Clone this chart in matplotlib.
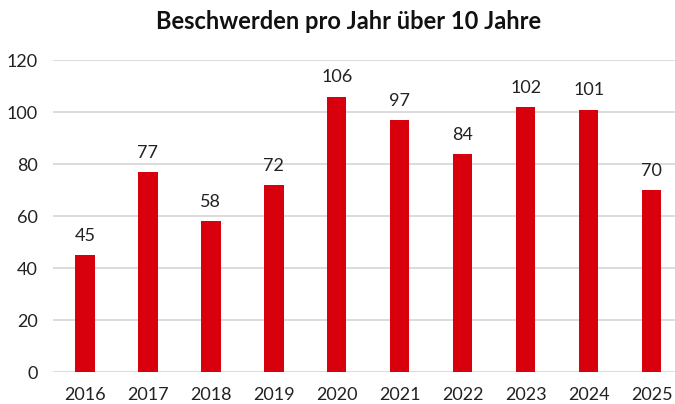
import matplotlib
matplotlib.use("Agg")
import matplotlib.pyplot as plt

years = ["2016", "2017", "2018", "2019", "2020", "2021", "2022", "2023", "2024", "2025"]
complaints = [45, 77, 58, 72, 106, 97, 84, 102, 101, 70]
y_ticks = [0, 20, 40, 60, 80, 100, 120]
title = "Beschwerden pro Jahr über 10 Jahre"

plt.rcParams['font.family'] = ['Lato', 'DejaVu Sans']

fig = plt.figure(figsize=(6.75, 4.04), dpi=100)
ax = fig.add_axes([0.079, 0.079, 0.933, 0.772])

x = range(len(years))
bars = ax.bar(x, complaints, width=0.31, color="#D9000D", zorder=3)
for xi, v in zip(x, complaints):
    ax.annotate(str(v), (xi, v), xytext=(0, 8), textcoords="offset points",
                ha="center", va="bottom", fontsize=13, color="#222222")

ax.set_xlim(-0.5, len(years) - 0.5)
ax.set_ylim(0, 120)
ax.set_yticks(y_ticks)
ax.set_xticks(list(x))
ax.set_xticklabels(years)
ax.tick_params(axis="both", length=0, labelsize=13, colors="#222222")
ax.tick_params(axis="x", pad=11)
ax.tick_params(axis="y", pad=11)
ax.yaxis.grid(True, color="#d9d9d9", linewidth=1.3, zorder=0)
for s in ax.spines.values():
    s.set_visible(False)

fig.text(0.516, 0.928, title, ha="center", va="baseline", fontsize=17,
         fontweight="bold", color="#111111")

fig.savefig("out.png", dpi=100)
